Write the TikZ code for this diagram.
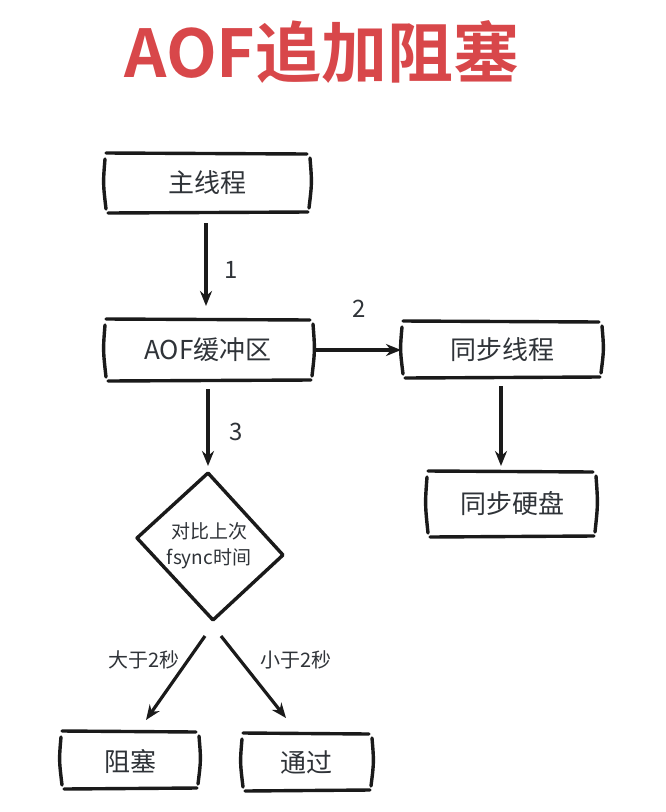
\documentclass[tikz,border=0pt]{standalone}
\usepackage{fontspec}
\setmainfont{Noto Sans CJK SC}
\newfontfamily\titlefont{Noto Sans CJK SC Bold}
\usetikzlibrary{arrows.meta,shapes.geometric}
\definecolor{titlered}{HTML}{D8474A}
\definecolor{ink}{HTML}{1A1A1A}
\definecolor{txt}{HTML}{2F3338}
\tikzset{
  boxtext/.style={text=txt,font=\fontsize{26}{30}\selectfont,inner sep=0pt},
  smalltext/.style={text=txt,font=\fontsize{19}{22}\selectfont,inner sep=0pt},
  numtext/.style={text=txt,font=\fontsize{24}{28}\selectfont,inner sep=0pt},
  sk/.style={draw=ink,line width=3.4pt,line cap=round,line join=round},
  arr/.style={draw=ink,line width=3.2pt,-{Stealth[length=15pt,width=12pt]}},
}
\newcommand\skbox[5]{% name, x1, y1, x2, y2
  \draw[sk] (#2-2,#3) -- (#4+1,#3+1);
  \draw[sk] (#2,#5) -- (#4+2,#5-1);
  \draw[sk] (#2-3,#3+6) .. controls (#2-5,{(#3+#5)/2}) .. (#2-2,#5-4);
  \draw[sk] (#4+4,#3+5) .. controls (#4+6,{(#3+#5)/2}) .. (#4+3,#5-5);
  \coordinate (#1-n) at ({(#2+#4)/2},#3);
  \coordinate (#1-s) at ({(#2+#4)/2},#5);
  \coordinate (#1-w) at (#2,{(#3+#5)/2});
  \coordinate (#1-e) at (#4,{(#3+#5)/2});
}
\begin{document}
\begin{tikzpicture}[x=1pt,y=-1pt]
\useasboundingbox[fill=white] (0,0) rectangle (666,812);
% title
\node[text=titlered,font=\titlefont\fontsize{66}{70}\selectfont,inner sep=0pt] (title) at (322,52) {AOF追加阻塞};
% boxes
\skbox{main}{108}{153}{306}{213}
\node[boxtext] (t-main) at (207,183) {主线程};
\skbox{buf}{108}{319}{309}{381}
\node[boxtext] (t-buf) at (208,350) {AOF缓冲区};
\skbox{sync}{405}{321}{598}{378}
\node[boxtext] (t-sync) at (502,350) {同步线程};
\skbox{disk}{430}{471}{592}{537}
\node[boxtext] (t-disk) at (512,504) {同步硬盘};
\skbox{block}{64}{731}{195}{789}
\node[boxtext] (t-block) at (130,761) {阻塞};
\skbox{pass}{245}{733}{368}{791}
\node[boxtext] (t-pass) at (306,763) {通过};
% diamond
\coordinate (dtop) at (208,473);
\coordinate (dleft) at (137,538);
\coordinate (dright) at (283,555);
\coordinate (dbot) at (213,620);
\draw[sk] (dtop) -- (dleft) -- (dbot) -- (dright) -- (dtop);
\node[smalltext,align=center] (t-dia) at (209,546) {对比上次\\[4pt]fsync时间};
% arrows
\coordinate (a1s) at (206,223);
\coordinate (a1e) at (206,306);
\draw[arr] (a1s) -- (a1e);
\node[numtext] (n1) at (231,270) {1};
\coordinate (a2s) at (316,350);
\coordinate (a2e) at (401,350);
\draw[arr] (a2s) -- (a2e);
\node[numtext] (n2) at (359,309) {2};
\coordinate (a3s) at (208,389);
\coordinate (a3e) at (208,466);
\draw[arr] (a3s) -- (a3e);
\node[numtext] (n3) at (236,432) {3};
\coordinate (a4s) at (501,386);
\coordinate (a4e) at (501,466);
\draw[arr] (a4s) -- (a4e);
\coordinate (a5s) at (205,636);
\coordinate (a5e) at (146,720);
\draw[arr] (a5s) -- (a5e);
\node[smalltext,font=\fontsize{20}{24}\selectfont] (l5) at (144,660) {大于2秒};
\coordinate (a6s) at (221,636);
\coordinate (a6e) at (286,718);
\draw[arr] (a6s) -- (a6e);
\node[smalltext,font=\fontsize{20}{24}\selectfont] (l6) at (296,660) {小于2秒};
\end{tikzpicture}
\end{document}
